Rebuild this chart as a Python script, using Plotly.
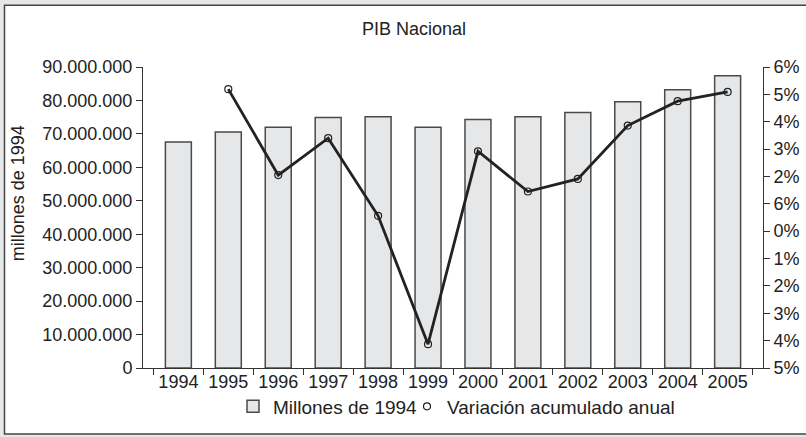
import plotly.graph_objects as go

years = ["1994", "1995", "1996", "1997", "1998", "1999", "2000", "2001", "2002", "2003", "2004", "2005"]
pib_millones = [67.6e6, 70.6e6, 72.0e6, 74.9e6, 75.1e6, 72.0e6, 74.3e6, 75.1e6, 76.4e6, 79.6e6, 83.2e6, 87.4e6]
variacion = [None, 5.19, 2.05, 3.40, 0.56, -4.13, 2.92, 1.45, 1.91, 3.86, 4.75, 5.09]
left_ticks = [0, 10e6, 20e6, 30e6, 40e6, 50e6, 60e6, 70e6, 80e6, 90e6]
right_tickvals = [-5, -4, -3, -2, -1, 0, 1, 2, 3, 4, 5, 6]
right_ticktext = ["5%", "4%", "3%", "2%", "1%", "0%", "6%", "2%", "3%", "4%", "5%", "6%"]

FONT = "Liberation Sans, Arial, sans-serif"
TXT = "#222222"
W, H = 806, 437
L, R, T, B = 143, 43, 67, 65
pw, ph = W - L - R, H - T - B

def px_x(x):
    return (x - L) / pw

def px_y(y):
    return (H - B - y) / ph

fig = go.Figure()
fig.add_trace(go.Bar(
    x=years, y=pib_millones, name="Millones de 1994",
    marker=dict(color="#e6e7e9", line=dict(color="#4a4a4a", width=1.5)),
    yaxis="y", legend="legend",
))
fig.add_trace(go.Scatter(
    x=years, y=variacion, name="Variación acumulado anual",
    mode="lines+markers", yaxis="y2", showlegend=False,
    line=dict(color="#222222", width=2.8),
    marker=dict(symbol="circle-open", size=7, color="#222222", line=dict(width=1.2)),
))
fig.add_trace(go.Scatter(
    x=[None], y=[None], name="Variación acumulado anual",
    mode="markers", yaxis="y2", legend="legend2",
    marker=dict(symbol="circle-open", size=7, color="#222222", line=dict(width=1.2)),
))

axis_common = dict(showgrid=False, zeroline=False, showline=True, linecolor="#333333",
                   linewidth=1, ticks="outside", ticklen=6, tickcolor="#333333",
                   automargin=False,
                   tickfont=dict(family=FONT, size=18, color=TXT))

legend_common = dict(orientation="h", xanchor="left", yanchor="middle", y=px_y(411),
                     bgcolor="rgba(0,0,0,0)", font=dict(family=FONT, size=19, color=TXT),
                     itemwidth=30)

fig.update_layout(
    width=W, height=H,
    margin=dict(l=L, r=R, t=T, b=B),
    paper_bgcolor="#e6e7e9", plot_bgcolor="white",
    separators=",.",
    font=dict(family=FONT, size=18, color=TXT),
    bargap=0.48,
    xaxis=dict(type="category", tickson="boundaries", ticklabelstandoff=-3, **axis_common),
    yaxis=dict(range=[0, 90e6], tickvals=left_ticks, tickformat=",d", **axis_common),
    yaxis2=dict(range=[-5, 6], overlaying="y", side="right",
                tickvals=right_tickvals, ticktext=right_ticktext, **axis_common),
    showlegend=True,
    legend=dict(x=px_x(233), **legend_common),
    legend2=dict(x=px_x(407), **legend_common),
    shapes=[dict(type="rect", xref="paper", yref="paper", layer="below",
                 x0=px_x(4.5), x1=px_x(810), y0=px_y(439), y1=px_y(4.5),
                 fillcolor="white", line=dict(color="#444444", width=1.5))],
    annotations=[
        dict(text="PIB Nacional", xref="paper", yref="paper", x=px_x(414), y=px_y(28),
             showarrow=False, font=dict(family=FONT, size=18, color=TXT),
             xanchor="center", yanchor="middle"),
        dict(text="millones de 1994", xref="paper", yref="paper", x=px_x(18), y=px_y(195),
             showarrow=False, textangle=-90, font=dict(family=FONT, size=18, color=TXT),
             xanchor="center", yanchor="middle"),
    ],
)

fig.write_html("out.html", config={"displayModeBar": False},
               post_script="document.body.style.margin='0';document.body.style.overflow='hidden';")
